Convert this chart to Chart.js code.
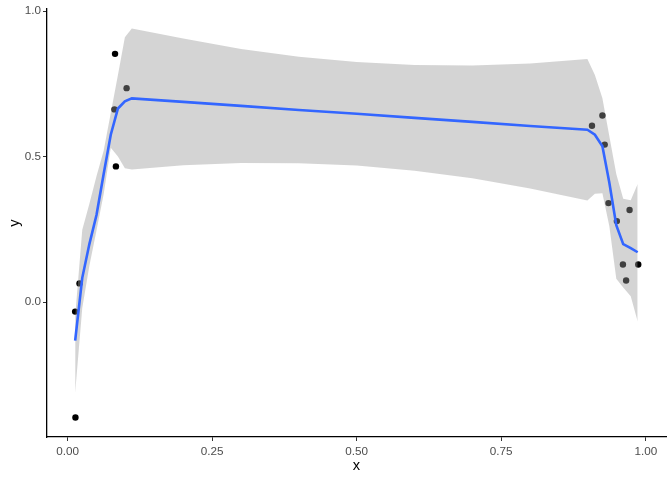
<!DOCTYPE html>
<html>
<head>
<meta charset="utf-8">
<script src="https://cdn.jsdelivr.net/npm/chart.js@4/dist/chart.umd.min.js"></script>
<style>
  html, body { margin: 0; padding: 0; background: #fff; }
  #chart { display: block; }
</style>
</head>
<body>
<canvas id="chart" width="672" height="480"></canvas>
<script>
// raw points
const pointX = [0.0135, 0.013, 0.0205, 0.082, 0.102, 0.081, 0.0835, 0.907, 0.925, 0.929, 0.9355, 0.972, 0.950, 0.9605, 0.987, 0.966];
const pointY = [-0.397, -0.033, 0.064, 0.853, 0.735, 0.662, 0.466, 0.606, 0.641, 0.541, 0.340, 0.316, 0.278, 0.129, 0.129, 0.074];

// loess smooth + confidence band
const smoothX = [0.013, 0.0253, 0.0376, 0.050, 0.0623, 0.0746, 0.087, 0.099, 0.111,
                 0.2, 0.3, 0.4, 0.5, 0.6, 0.7, 0.8,
                 0.899, 0.912, 0.925, 0.937, 0.949, 0.961, 0.974, 0.986];
const smoothY = [-0.133, 0.083, 0.199, 0.300, 0.440, 0.575, 0.665, 0.690, 0.700,
                 0.688, 0.674, 0.660, 0.647, 0.633, 0.619, 0.605,
                 0.592, 0.575, 0.535, 0.410, 0.264, 0.199, 0.185, 0.171];
const upperY = [-0.05, 0.248, 0.338, 0.433, 0.520, 0.650, 0.780, 0.910, 0.940,
                0.906, 0.870, 0.843, 0.825, 0.815, 0.813, 0.820,
                0.835, 0.780, 0.700, 0.570, 0.440, 0.355, 0.350, 0.406];
const lowerY = [-0.313, -0.021, 0.125, 0.247, 0.370, 0.530, 0.500, 0.460, 0.455,
                0.470, 0.478, 0.477, 0.469, 0.451, 0.425, 0.390,
                0.349, 0.372, 0.374, 0.260, 0.080, 0.050, 0.020, -0.067];

// axis ticks
const xTicks = [0, 0.25, 0.5, 0.75, 1.0];
const xTickLabels = ['0.00', '0.25', '0.50', '0.75', '1.00'];
const yTicks = [0, 0.5, 1.0];
const yTickLabels = ['0.0', '0.5', '1.0'];

const pts = (xs, ys) => xs.map((x, i) => ({ x: x, y: ys[i] }));

const tickFont = { family: "'Liberation Sans', Arial, sans-serif", size: 11.7 };
const titleFont = { family: "'Liberation Sans', Arial, sans-serif", size: 14.7 };

new Chart(document.getElementById('chart'), {
    type: 'scatter',
    data: {
        datasets: [
            {
                data: pts(smoothX, smoothY),
                showLine: true,
                borderColor: '#3366FF',
                borderWidth: 2.6,
                pointRadius: 0,
                fill: false,
                order: 1
            },
            {
                data: pts(smoothX, upperY),
                showLine: true,
                borderColor: 'transparent',
                borderWidth: 0,
                pointRadius: 0,
                fill: '+1',
                backgroundColor: 'rgba(153,153,153,0.42)',
                order: 2
            },
            {
                data: pts(smoothX, lowerY),
                showLine: true,
                borderColor: 'transparent',
                borderWidth: 0,
                pointRadius: 0,
                fill: false,
                order: 2
            },
            {
                data: pts(pointX, pointY),
                pointRadius: 3.2,
                pointBackgroundColor: '#000',
                pointBorderWidth: 0,
                order: 3
            }
        ]
    },
    options: {
        responsive: false,
        animation: false,
        layout: { padding: { top: 8, right: 6, left: 0, bottom: 0 } },
        plugins: {
            legend: { display: false },
            tooltip: { enabled: false }
        },
        scales: {
            x: {
                type: 'linear',
                min: -0.0357,
                max: 1.035,
                afterBuildTicks: scale => { scale.ticks = xTicks.map(v => ({ value: v })); },
                afterFit: scale => { scale.height = 43; },
                ticks: {
                    callback: (v, i) => xTickLabels[i],
                    font: tickFont,
                    color: '#4d4d4d',
                    padding: 4,
                    maxRotation: 0
                },
                grid: { display: true, drawOnChartArea: false, drawTicks: true, tickLength: 4, color: '#333' },
                border: { display: true, color: '#000', width: 1.3 },
                title: { display: true, text: 'x', font: titleFont, color: '#000', padding: { top: 0, bottom: 5 } }
            },
            y: {
                type: 'linear',
                min: -0.464,
                max: 1.007,
                afterBuildTicks: scale => { scale.ticks = yTicks.map(v => ({ value: v })); },
                afterFit: scale => { scale.width = 47; },
                ticks: {
                    callback: (v, i) => yTickLabels[i],
                    font: tickFont,
                    color: '#4d4d4d',
                    padding: 2
                },
                grid: { display: true, drawOnChartArea: false, drawTicks: true, tickLength: 4, color: '#333' },
                border: { display: true, color: '#000', width: 1.3 },
                title: { display: true, text: 'y', font: titleFont, color: '#000', padding: { top: 6, bottom: 0 } }
            }
        }
    }
});
</script>
</body>
</html>
